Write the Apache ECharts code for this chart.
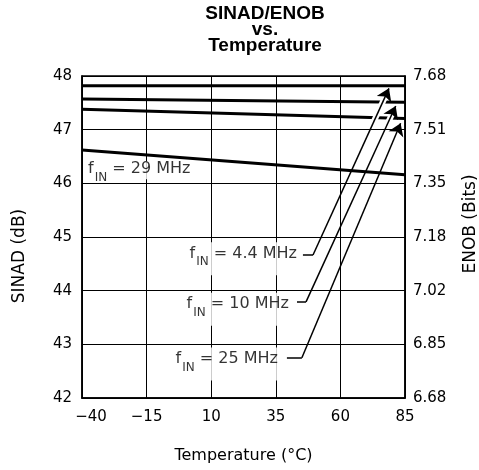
<!DOCTYPE html>
<html><head><meta charset="utf-8">
<script src="https://cdn.jsdelivr.net/npm/echarts@6/dist/echarts.min.js"></script>
<style>html,body{margin:0;padding:0;background:#fff}#c{width:479px;height:470px}</style>
</head><body><div id="c"></div>
<script>
const temps = [-40, 85];
const sinad44 = [47.82, 47.82];
const sinad10 = [47.57, 47.51];
const sinad25 = [47.38, 47.21];
const sinad29 = [46.62, 46.16];
const enobTicks = ['6.68', '6.85', '7.02', '7.18', '7.35', '7.51', '7.68'];
const freqLabels = ['4.4', '10', '25', '29'];
// annotation anchors, in data units [temperature, dB]
const labelAnchors = [[44.37, 44.90], [41.27, 43.96], [37.01, 42.94], [-37.68, 46.41]];
const arrowStubs = [
  [[45.5, 44.665], [49.4, 44.665]],
  [[43.2, 43.79], [46.7, 43.79]],
  [[39.3, 42.75], [45.1, 42.75]]
];
const arrowDiags = [
  [[49.4, 44.665], [78.8, 47.77]],
  [[46.7, 43.79], [81.4, 47.44]],
  [[45.1, 42.75], [83.3, 47.12]]
];
// white breaks in the curves where the arrows pass
const arrowBreaks = [
  [[72.45, 47.10], [78.14, 47.70]],
  [[77.69, 47.05], [80.83, 47.38]]
];
// 46 dB grid line that shows above the 29 MHz label
const gridPatch = [[[-28.0, 46], [5, 46]]];

const FONT = 'DejaVu Sans';
const pairs = s => temps.map((t, i) => [t, s[i]]);
const lineSeries = s => ({
  type: 'line', data: pairs(s), symbol: 'none', z: 3,
  lineStyle: { color: '#000', width: 3 }, silent: true
});
const rich = {
  m: { fontFamily: FONT, fontSize: 16, lineHeight: 18, color: '#000', verticalAlign: 'top' },
  s: { fontFamily: FONT, fontSize: 12, lineHeight: 12, color: '#000', padding: [11, 0, 0, 1], verticalAlign: 'top' }
};
const yAxisCommon = {
  type: 'value', min: 42, max: 48, interval: 1,
  axisLine: { show: true, onZero: false, lineStyle: { color: '#000', width: 1.5 } },
  axisTick: { show: false }
};

const chart = echarts.init(document.getElementById('c'), null, { renderer: 'canvas' });
chart.setOption({
  animation: false,
  backgroundColor: '#fff',
  title: {
    text: 'SINAD/ENOB\nvs.\nTemperature',
    left: 260, top: 1, textAlign: 'center',
    textStyle: { fontFamily: 'Liberation Sans', fontWeight: 'bold', fontSize: 19, lineHeight: 16, color: '#000' }
  },
  grid: {
    left: 82, right: 74, top: 76, bottom: 72, show: true, borderColor: '#000', borderWidth: 1.5,
    containLabel: false, outerBoundsMode: 'none'
  },
  xAxis: {
    type: 'value', min: -40, max: 85, interval: 25,
    name: 'Temperature (°C)', nameLocation: 'middle', nameGap: 50,
    nameTextStyle: { fontFamily: FONT, fontSize: 16, color: '#000' },
    axisLine: { show: true, onZero: false, lineStyle: { color: '#000', width: 1.5 } },
    axisTick: { show: false },
    splitLine: { show: true, lineStyle: { color: '#000', width: 1 } },
    axisLabel: {
      fontFamily: FONT, fontSize: 15, color: '#000', margin: 12,
      formatter: v => v === -40 ? '{p|−40}' : String(v).replace('-', '−'),
      rich: { p: { fontFamily: FONT, fontSize: 15, color: '#000', padding: [0, 0, 0, 18] } }
    }
  },
  yAxis: [Object.assign({}, yAxisCommon, {
    name: 'SINAD (dB)', nameLocation: 'middle', nameGap: 54,
    nameTextStyle: { fontFamily: FONT, fontSize: 17, color: '#000', padding: [0, 38, 0, 0] },
    splitLine: { show: true, lineStyle: { color: '#000', width: 1 } },
    axisLabel: { fontFamily: FONT, fontSize: 15, color: '#000', margin: 10 }
  }), Object.assign({}, yAxisCommon, {
    position: 'right',
    name: 'ENOB (Bits)', nameLocation: 'middle', nameGap: 57, nameRotate: 90,
    nameTextStyle: { fontFamily: FONT, fontSize: 17, color: '#000', padding: [0, 0, 0, 26] },
    splitLine: { show: false },
    axisLabel: {
      fontFamily: FONT, fontSize: 15, color: '#000', margin: 8,
      formatter: v => enobTicks[Math.round(v - 42)]
    }
  })],
  series: [
    lineSeries(sinad44), lineSeries(sinad10), lineSeries(sinad25), lineSeries(sinad29),
    {
      type: 'lines', coordinateSystem: 'cartesian2d', z: 4, silent: true,
      symbol: 'none',
      lineStyle: { color: '#fff', width: 6, opacity: 1 },
      data: arrowBreaks.map(c => ({ coords: c }))
    },
    {
      type: 'scatter', symbolSize: 0, z: 5, silent: true,
      data: labelAnchors.map((a, i) => ({
        value: a,
        label: {
          show: true,
          position: [0, 0],
          color: '#000',
          align: i === 3 ? 'left' : 'right',
          verticalAlign: 'top',
          backgroundColor: '#fff',
          padding: i === 3 ? 0 : [3, 3, 12, 3],
          formatter: '{m|f}{s|IN}{m| = ' + freqLabels[i] + ' MHz}',
          rich: rich
        }
      }))
    },
    {
      type: 'lines', coordinateSystem: 'cartesian2d', z: 6, silent: true,
      symbol: 'none',
      lineStyle: { color: '#000', width: 1, opacity: 1 },
      data: gridPatch.map(c => ({ coords: c }))
    },
    {
      type: 'lines', coordinateSystem: 'cartesian2d', z: 6, silent: true,
      symbol: 'none',
      lineStyle: { color: '#000', width: 1.5, opacity: 1 },
      data: arrowStubs.map(c => ({ coords: c }))
    },
    {
      type: 'lines', coordinateSystem: 'cartesian2d', z: 6, silent: true,
      symbol: ['none', 'arrow'], symbolSize: [6, 12],
      lineStyle: { color: '#000', width: 1.5, opacity: 1 },
      itemStyle: { color: '#000' },
      data: arrowDiags.map(c => ({ coords: c }))
    }
  ]
});
</script></body></html>
